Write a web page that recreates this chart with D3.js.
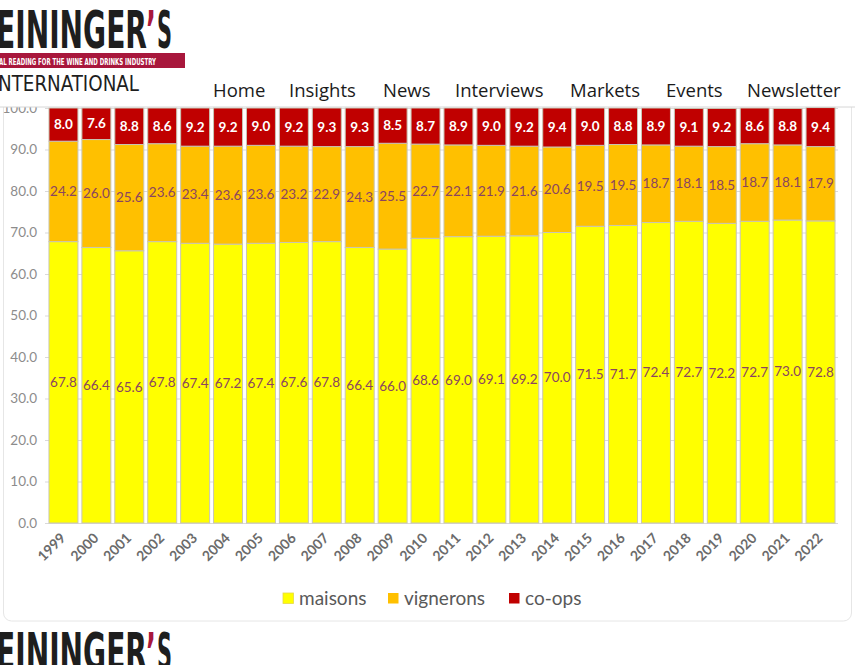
<!DOCTYPE html>
<html>
<head>
<meta charset="utf-8">
<script src="https://cdn.jsdelivr.net/npm/d3@7"></script>
<style>
  html, body { margin: 0; padding: 0; background: #fff; }
  svg { display: block; }
</style>
</head>
<body>
<svg id="chart" width="855" height="665"></svg>
<script>
const years = ["1999","2000","2001","2002","2003","2004","2005","2006","2007","2008","2009","2010","2011","2012","2013","2014","2015","2016","2017","2018","2019","2020","2021","2022"];
const maisons = [67.8,66.4,65.6,67.8,67.4,67.2,67.4,67.6,67.8,66.4,66.0,68.6,69.0,69.1,69.2,70.0,71.5,71.7,72.4,72.7,72.2,72.7,73.0,72.8];
const vignerons = [24.2,26.0,25.6,23.6,23.4,23.6,23.6,23.2,22.9,24.3,25.5,22.7,22.1,21.9,21.6,20.6,19.5,19.5,18.7,18.1,18.5,18.7,18.1,17.9];
const coops = [8.0,7.6,8.8,8.6,9.2,9.2,9.0,9.2,9.3,9.3,8.5,8.7,8.9,9.0,9.2,9.4,9.0,8.8,8.9,9.1,9.2,8.6,8.8,9.4];
const seriesNames = ["maisons","vignerons","co-ops"];
const seriesColors = ["#FFFF00","#FFC000","#C00000"];
const yTicks = [0,10,20,30,40,50,60,70,80,90,100];
const navItems = ["Home","Insights","News","Interviews","Markets","Events","Newsletter"];

const svg = d3.select("#chart");

// chart frame
svg.append("rect").attr("x",3.5).attr("y",40).attr("width",848).attr("height",581)
  .attr("rx",8).attr("fill","#fff").attr("stroke","#e6e6e6");

const x = d3.scaleBand().domain(years).range([47,837]).paddingInner(0.12).paddingOuter(0.06);
const y = d3.scaleLinear().domain([0,100]).range([523,108]);

// gridlines
svg.append("g").selectAll("line").data(yTicks).join("line")
  .attr("x1",45).attr("x2",838)
  .attr("y1",d=>y(d)+0.5).attr("y2",d=>y(d)+0.5)
  .attr("stroke","#d9d9d9");

// y axis labels
const yAxis = d3.axisLeft(y).tickValues(yTicks).tickFormat(d3.format(".1f")).tickSize(0).tickPadding(0);
const gy = svg.append("g").attr("transform","translate(37,0)").call(yAxis);
gy.select(".domain").remove();
gy.selectAll("text").attr("font-family","Lato, 'Open Sans', sans-serif").attr("font-size",13.5)
  .attr("fill","#8c8c8c");

// stacked data
const rows = years.map((yr,i)=>({year:yr, maisons:maisons[i], vignerons:vignerons[i], "co-ops":coops[i]}));
const stack = d3.stack().keys(seriesNames)(rows);

const layers = svg.append("g").selectAll("g").data(stack).join("g")
  .attr("fill",(d,i)=>seriesColors[i]);
layers.selectAll("rect").data(d=>d).join("rect")
  .attr("x",d=>x(d.data.year))
  .attr("width",x.bandwidth())
  .attr("y",d=>y(d[1]))
  .attr("height",d=>y(d[0])-y(d[1]))
  .attr("stroke","#c9c6b4").attr("stroke-width",1);

// data labels
stack.forEach((layer,li)=>{
  svg.append("g").selectAll("text").data(layer).join("text")
    .attr("x",d=>x(d.data.year)+x.bandwidth()/2)
    .attr("y",d=>y((d[0]+d[1])/2))
    .attr("dy","0.35em")
    .attr("text-anchor","middle")
    .attr("font-family","Lato, 'Open Sans', sans-serif")
    .attr("font-size",13.5)
    .attr("font-weight", li===2 ? "bold" : "normal")
    .attr("fill", li===2 ? "#ffffff" : "#8a4560")
    .text(d=>d3.format(".1f")(d[1]-d[0]));
});

// x axis labels
svg.append("g").selectAll("text").data(years).join("text")
  .attr("transform",d=>`translate(${x(d)+x.bandwidth()/2+3},${539}) rotate(-45)`)
  .attr("text-anchor","end")
  .attr("font-family","Lato, 'Open Sans', sans-serif")
  .attr("font-size",14).attr("font-weight","bold")
  .attr("fill","#6b6b6b")
  .text(d=>d);

// legend
const legendX = [283,388,509];
const lg = svg.append("g").selectAll("g").data(seriesNames).join("g")
  .attr("transform",(d,i)=>`translate(${legendX[i]},593)`);
lg.append("rect").attr("width",10.5).attr("height",10.5)
  .attr("fill",(d,i)=>seriesColors[i]).attr("stroke",(d,i)=>i===0?"#e6d84a":"none").attr("stroke-width",0.8);
lg.append("text").attr("x",16).attr("y",5.5).attr("dy","0.35em")
  .attr("font-family","Lato, 'Open Sans', sans-serif").attr("font-size",19)
  .attr("fill","#595959").text(d=>d);

// header overlay
svg.append("rect").attr("x",0).attr("y",0).attr("width",855).attr("height",107).attr("fill","#fff");
svg.append("line").attr("x1",0).attr("x2",855).attr("y1",107).attr("y2",107).attr("stroke","#d6d6d6");

const logoFont = "'Liberation Sans Narrow', 'DejaVu Sans Condensed', sans-serif";
function logo(g, top){
  const base = top + 38;
  g.append("text").attr("x",-4).attr("y",base)
    .attr("font-family",logoFont).attr("font-weight","bold").attr("font-size",51)
    .attr("textLength",151).attr("lengthAdjust","spacingAndGlyphs")
    .attr("fill","#1e1e1e").text("EININGER");
  g.append("text").attr("x",146).attr("y",base)
    .attr("font-family",logoFont).attr("font-weight","bold").attr("font-size",51)
    .attr("textLength",10).attr("lengthAdjust","spacingAndGlyphs")
    .attr("fill","#a8173c").text("’");
  g.append("text").attr("x",157).attr("y",base)
    .attr("font-family",logoFont).attr("font-weight","bold").attr("font-size",51)
    .attr("textLength",15).attr("lengthAdjust","spacingAndGlyphs")
    .attr("fill","#1e1e1e").text("S");
}
const hg = svg.append("g");
logo(hg, 10);
hg.append("rect").attr("x",0).attr("y",53).attr("width",185).attr("height",15).attr("fill","#a8173c");
hg.append("text").attr("x",-1).attr("y",64.5)
  .attr("font-family",logoFont)
  .attr("font-weight","bold").attr("font-size",8.5).attr("fill","#fff")
  .attr("textLength",157).attr("lengthAdjust","spacingAndGlyphs")
  .text("AL READING FOR THE WINE AND DRINKS INDUSTRY");
hg.append("text").attr("x",-2).attr("y",91)
  .attr("font-family",logoFont)
  .attr("font-size",22).attr("fill","#1e1e1e")
  .attr("textLength",141).attr("lengthAdjust","spacingAndGlyphs")
  .text("NTERNATIONAL");

const navX = [213,289,383,455,570,666,747];
svg.append("g").selectAll("text").data(navItems).join("text")
  .attr("x",(d,i)=>navX[i]).attr("y",97)
  .attr("font-family","'Open Sans', 'Noto Sans', sans-serif").attr("font-size",18.5)
  .attr("fill","#1a1a1a").text(d=>d);

// bottom logo
logo(svg.append("g"), 632);
</script>
</body>
</html>
